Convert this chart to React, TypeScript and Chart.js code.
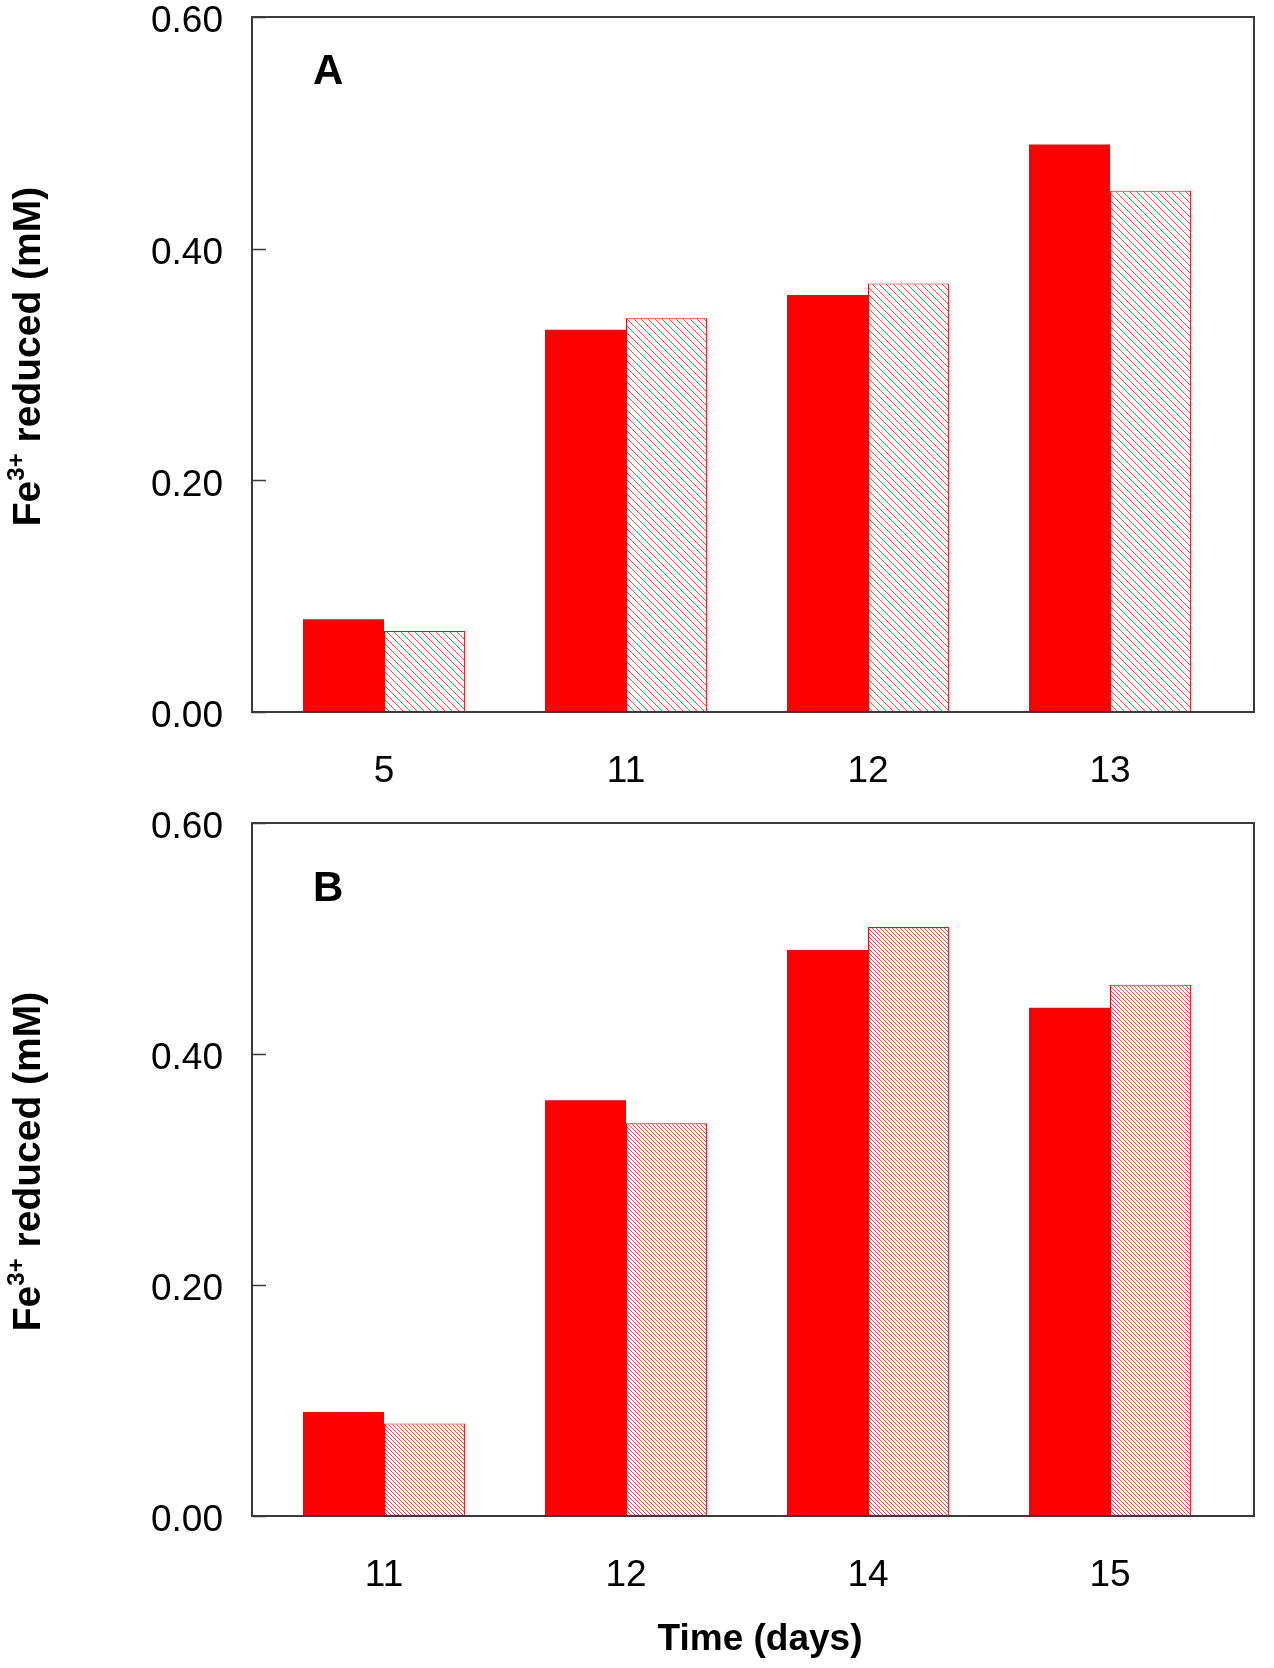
import { useRef, useEffect } from "react";
import { Chart, registerables } from "chart.js";

Chart.register(...registerables);

// data
const daysA = ["5", "11", "12", "13"];
const solidA = [0.08, 0.33, 0.36, 0.49];
const hatchedA = [0.07, 0.34, 0.37, 0.45];

const daysB = ["11", "12", "14", "15"];
const solidB = [0.09, 0.36, 0.49, 0.44];
const hatchedB = [0.08, 0.34, 0.51, 0.46];

const yTicks = [0, 0.2, 0.4, 0.6];

const FONT = '"Liberation Sans", Arial, Helvetica, sans-serif';
const RED = "#ff0000";

function makeHatch(size: number) {
  const c = document.createElement("canvas");
  c.width = size;
  c.height = size;
  const g = c.getContext("2d")!;
  g.fillStyle = "#ffffff";
  g.fillRect(0, 0, size, size);
  g.strokeStyle = "rgba(255,40,40,0.85)";
  g.lineWidth = 1;
  for (const k of [-1, 0, 1]) {
    g.beginPath();
    g.moveTo(k * size, 0);
    g.lineTo(k * size + size, size);
    g.stroke();
  }
  return g.createPattern(c, "repeat")!;
}

interface PanelProps {
  labels: string[];
  solid: number[];
  hatched: number[];
  letter: string;
  letterY: number;
  hatchSize: number;
  height: number;
  top: number;
  xAxisHeight: number;
  showXTitle?: boolean;
  xTitleY?: number;
}

function Panel({
  labels,
  solid,
  hatched,
  letter,
  letterY,
  hatchSize,
  height,
  top,
  xAxisHeight,
  showXTitle = false,
  xTitleY = 0,
}: PanelProps) {
  const canvasRef = useRef<HTMLCanvasElement | null>(null);

  useEffect(() => {
    if (!canvasRef.current) return;
    const ctx = canvasRef.current.getContext("2d");
    if (!ctx) return;

    // frame + inward ticks + labels
    const decor = {
      id: "decor",
      afterDraw(chart: any) {
        const { ctx: c, chartArea } = chart;
        const y = chart.scales.y;
        const left = chartArea.left - 11;
        const right = chartArea.right + 23;
        const t = chartArea.top;
        const b = chartArea.bottom;
        c.save();
        c.strokeStyle = "#3a3a3a";
        c.lineWidth = 2;
        c.strokeRect(left, t, right - left, b - t);
        c.lineWidth = 1.5;
        for (const v of yTicks) {
          const py = Math.round(y.getPixelForValue(v)) + 0.5;
          c.beginPath();
          c.moveTo(left, py);
          c.lineTo(left + 14, py);
          c.stroke();
        }

        c.fillStyle = "#000";
        c.font = `bold 42px ${FONT}`;
        c.textAlign = "left";
        c.textBaseline = "alphabetic";
        c.fillText(letter, 313, letterY);

        // y title with superscript
        const big = `bold 39px ${FONT}`;
        const small = `bold 24px ${FONT}`;
        c.font = big;
        const w1 = c.measureText("Fe").width;
        const w3 = c.measureText(" reduced (mM)").width;
        c.font = small;
        const w2 = c.measureText("3+").width;
        const total = w1 + w2 + w3;
        c.translate(26, (t + b) / 2 - 8);
        c.rotate(-Math.PI / 2);
        let x = -total / 2;
        c.font = big;
        c.fillText("Fe", x, 14);
        x += w1;
        c.font = small;
        c.fillText("3+", x, -2);
        x += w2;
        c.font = big;
        c.fillText(" reduced (mM)", x, 14);
        c.restore();

        if (showXTitle) {
          c.save();
          c.fillStyle = "#000";
          c.font = `bold 37px ${FONT}`;
          c.textAlign = "center";
          c.textBaseline = "alphabetic";
          c.fillText("Time (days)", 760, xTitleY);
          c.restore();
        }
      },
    };

    const chart = new Chart(ctx, {
      type: "bar",
      data: {
        labels,
        datasets: [
          {
            data: solid,
            backgroundColor: RED,
            borderWidth: 0,
          },
          {
            data: hatched,
            backgroundColor: makeHatch(hatchSize),
            borderColor: RED,
            borderWidth: 1,
          },
        ],
      },
      options: {
        animation: false,
        responsive: false,
        devicePixelRatio: 1,
        layout: { padding: { top, right: 43, left: 0, bottom: 0 } },
        plugins: {
          legend: { display: false },
          tooltip: { enabled: false },
        },
        datasets: {
          bar: { categoryPercentage: 0.67, barPercentage: 1 },
        },
        scales: {
          x: {
            grid: { display: false, drawTicks: false },
            border: { display: false },
            ticks: {
              color: "#000",
              font: { family: FONT, size: 37 },
              padding: 38,
              maxRotation: 0,
            },
            afterFit(scale: any) {
              scale.height = xAxisHeight;
              scale.paddingLeft = 0;
              scale.paddingRight = 0;
            },
          },
          y: {
            min: 0,
            max: 0.6,
            grid: { display: false, drawTicks: false },
            border: { display: false },
            ticks: {
              stepSize: 0.2,
              color: "#000",
              padding: 40,
              labelOffset: 5,
              font: { family: FONT, size: 37 },
              callback: (v: any) => Number(v).toFixed(2),
            },
            afterFit(scale: any) {
              scale.width = 263;
              scale.paddingTop = 0;
              scale.paddingBottom = 0;
            },
          },
        },
      },
      plugins: [decor],
    });

    return () => {
      chart.destroy();
    };
  }, [labels, solid, hatched, letter, letterY, hatchSize, top, xAxisHeight, showXTitle, xTitleY]);

  return <canvas ref={canvasRef} width={1274} height={height} style={{ display: "block" }} />;
}

export default function App() {
  return (
    <div
      style={{
        position: "absolute",
        left: 0,
        top: 0,
        width: 1274,
        height: 1668,
        background: "#fff",
      }}
    >
      <Panel
        labels={daysA}
        solid={solidA}
        hatched={hatchedA}
        letter="A"
        letterY={84}
        hatchSize={7}
        height={800}
        top={17}
        xAxisHeight={88}
      />
      <Panel
        labels={daysB}
        solid={solidB}
        hatched={hatchedB}
        letter="B"
        letterY={101}
        hatchSize={4}
        height={868}
        top={23}
        xAxisHeight={152}
        showXTitle
        xTitleY={850}
      />
    </div>
  );
}
